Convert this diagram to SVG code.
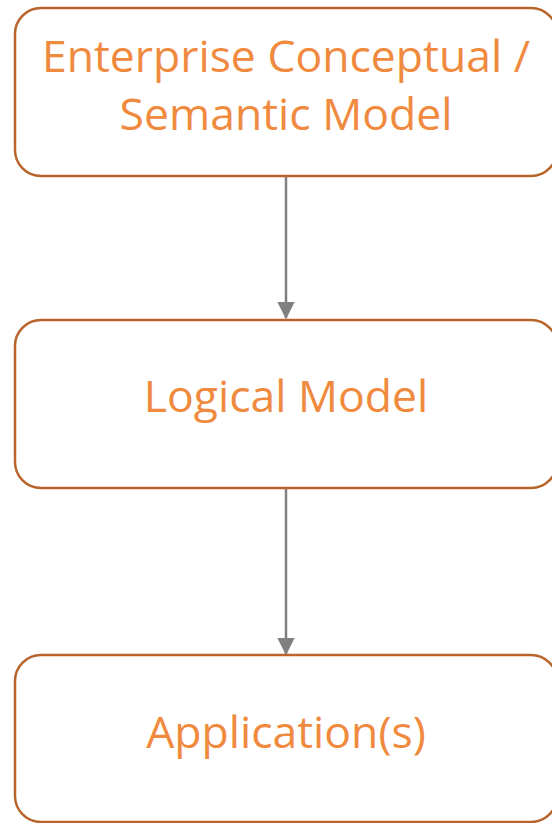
<svg xmlns="http://www.w3.org/2000/svg" width="552" height="823" viewBox="0 0 552 823">
<defs>
<style>
.box{fill:#fff;stroke:#B8642C;stroke-width:2.5}
.lbl{fill:#F08A3E;font-family:"Open Sans","Noto Sans",sans-serif;font-size:44.5px;text-anchor:middle}
.conn{stroke:#808080;stroke-width:2.5;fill:none}
</style>
<marker id="arr" markerWidth="7" markerHeight="7" refX="6.5" refY="3.5" orient="auto" markerUnits="strokeWidth">
<path d="M0,0 L7,3.5 L0,7 Z" fill="#808080"/>
</marker>
</defs>
<rect width="552" height="823" fill="#fff"/>
<g id="connectors">
<line class="conn" x1="286" y1="177" x2="286" y2="318" marker-end="url(#arr)"/>
<line class="conn" x1="286" y1="489" x2="286" y2="654" marker-end="url(#arr)"/>
</g>
<g id="node-enterprise">
<rect class="box" x="15" y="8" width="542" height="168" rx="26"/>
<text class="lbl" x="286" y="72">Enterprise Conceptual /</text>
<text class="lbl" x="286" y="130">Semantic Model</text>
</g>
<g id="node-logical">
<rect class="box" x="15" y="320" width="542" height="168" rx="26"/>
<text class="lbl" x="286" y="412">Logical Model</text>
</g>
<g id="node-application">
<rect class="box" x="15" y="655" width="542" height="167" rx="26"/>
<text class="lbl" x="286" y="748">Application(s)</text>
</g>
</svg>
